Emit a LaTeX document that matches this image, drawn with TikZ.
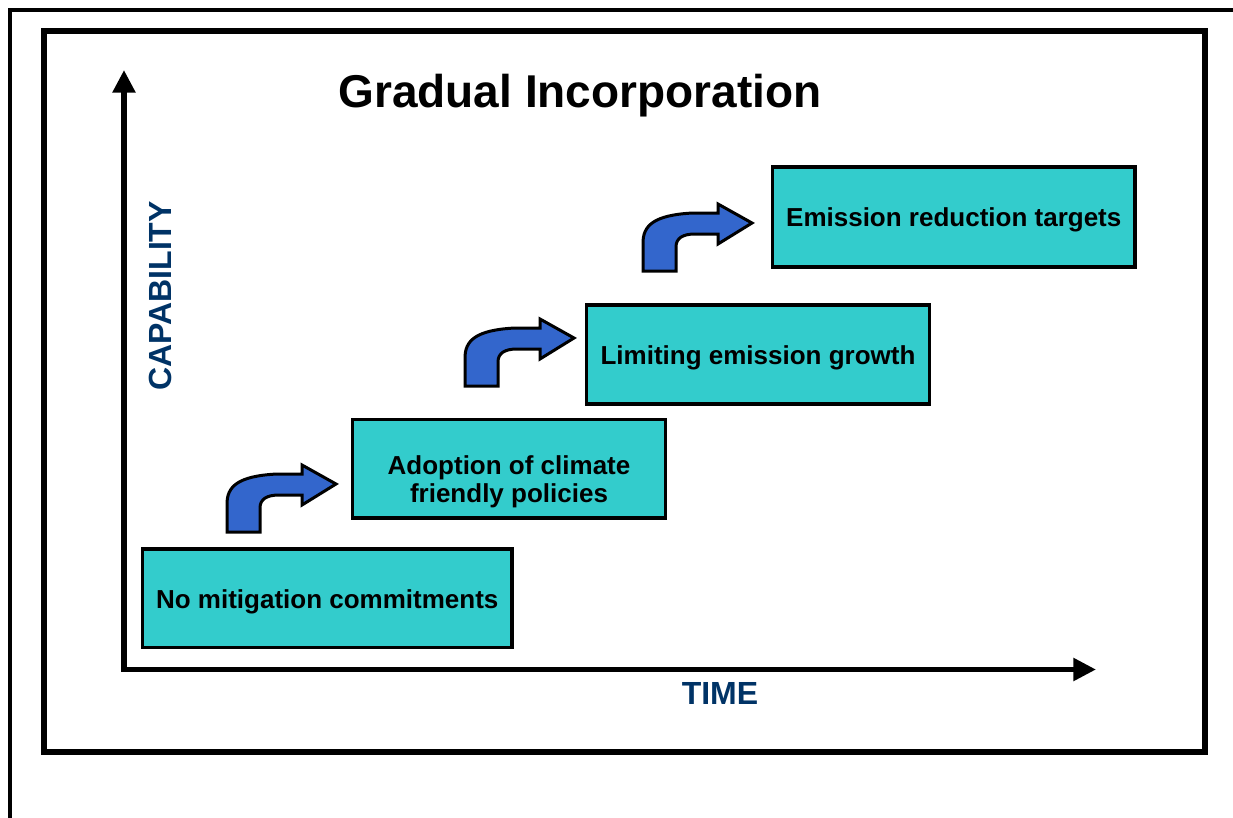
\documentclass[tikz,border=0pt]{standalone}
\usepackage{fontspec}
\setmainfont{Liberation Sans}
\usetikzlibrary{arrows.meta}
\definecolor{stageteal}{RGB}{51,204,204}
\definecolor{arrowblue}{RGB}{51,102,204}
\definecolor{axisnavy}{RGB}{0,51,102}
\tikzset{
  stagebox/.style={draw=black, line width=2.6pt, fill=stageteal,
    inner sep=0pt, minimum height=74pt},
  stagetext/.style={align=center, inner sep=0pt,
    font=\fontsize{19.5}{21}\selectfont\bfseries},
  axislabel/.style={text=axisnavy, font=\fontsize{24}{28}\selectfont\bfseries, inner sep=0pt},
  axisline/.style={line width=4.1pt, line join=miter,
    {Triangle[length=17pt,width=16.5pt]}-{Triangle[length=17pt,width=16.5pt]}},
  bentarrow/.pic={
    \draw[line width=2.25pt, fill=arrowblue, line join=miter]
      (0,0) -- (33,0) -- (33,-24) .. controls (33,-33) and (40,-37) .. (52,-37)
      -- (75,-37) -- (75,-27) -- (109,-48) -- (75,-67) -- (75,-58) -- (50,-58)
      .. controls (10,-56) and (0,-45) .. (0,-28) -- cycle;
  }
}
\begin{document}
\begin{tikzpicture}[x=0.75pt, y=-0.75pt]
\useasboundingbox (0,0) rectangle (1233,818);
% outer partial frame
\coordinate (fbl) at (10,830);
\coordinate (ftl) at (10,10);
\coordinate (ftr) at (1245,10);
\draw[line width=2.6pt] (fbl) -- (ftl) -- (ftr);
% inner frame
\draw[line width=4.5pt] (44,30.5) rectangle (1205,752);
% axes
\coordinate (ytop) at (124,70);
\coordinate (orig) at (124,669.5);
\coordinate (xend) at (1096,669.5);
\draw[axisline] (ytop) -- (orig) -- (xend);
% title
\node[anchor=base, inner sep=0pt, font=\fontsize{34.5}{40}\selectfont\bfseries] (title) at (580,107) {Gradual Incorporation};
% axis labels
\node[axislabel] (time) at (720,693) {TIME};
\node[axislabel, rotate=90] (cap) at (160,296) {CAPABILITY};
% stage boxes
\node[stagebox, minimum width=277.1pt] (s1) at (327.25,598.25) {};
\node[stagebox, minimum width=234.75pt] (s2) at (509,468.75) {};
\node[stagebox, minimum width=257.25pt] (s3) at (758,354.5) {};
\node[stagebox, minimum width=271.9pt, minimum height=75pt] (s4) at (953.75,217) {};
\node[stagetext] (t1) at (327.25,601.5) {No mitigation commitments};
\node[stagetext] (t2) at (509,481.5) {Adoption of climate\\friendly policies};
\node[stagetext] (t3) at (758,357.5) {Limiting emission growth};
\node[stagetext] (t4) at (953.75,220) {Emission reduction targets};
% bent arrows
\pic (a1) at (227,532) {bentarrow};
\pic (a2) at (465,386) {bentarrow};
\pic (a3) at (643,271) {bentarrow};
\end{tikzpicture}
\end{document}
